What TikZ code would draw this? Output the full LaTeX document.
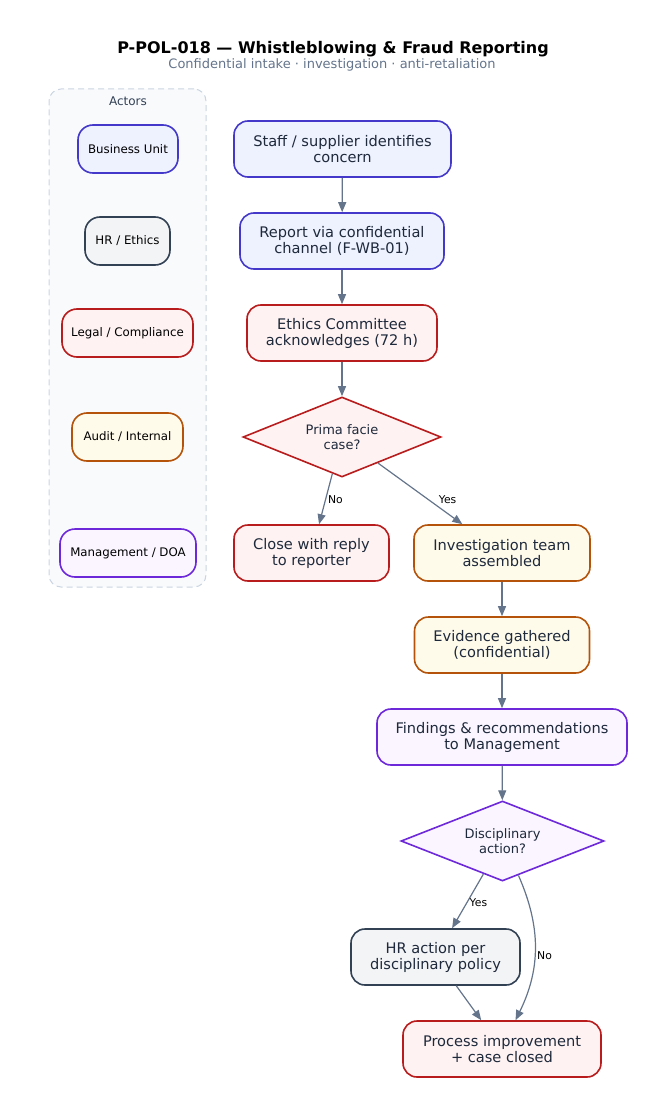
\documentclass[tikz,border=0pt]{standalone}
\usepackage{fontspec}
\setmainfont{DejaVu Sans}
\usetikzlibrary{shapes.geometric,arrows.meta}
\definecolor{edgec}{HTML}{64748B}
\definecolor{bluB}{HTML}{4338CA}\definecolor{bluF}{HTML}{EEF2FF}
\definecolor{redB}{HTML}{B91C1C}\definecolor{redF}{HTML}{FEF2F2}
\definecolor{orB}{HTML}{B45309}\definecolor{orF}{HTML}{FFFBEB}
\definecolor{puB}{HTML}{6D28D9}\definecolor{puF}{HTML}{FAF5FF}
\definecolor{grB}{HTML}{334155}\definecolor{grF}{HTML}{F3F4F6}
\definecolor{txt}{HTML}{1E293B}
\definecolor{laneB}{HTML}{CBD5E1}\definecolor{laneF}{HTML}{F8FAFC}
\definecolor{subc}{HTML}{64748B}
\begin{document}
\begin{tikzpicture}[x=1pt,y=-1pt,
  box/.style={rectangle, rounded corners=14pt, line width=1.6pt, align=center, text=txt,
    font=\fontsize{14.6}{16}\selectfont, inner sep=0pt, minimum height=56pt},
  actor/.style={rectangle, rounded corners=15pt, line width=1.6pt, align=center, text=black,
    font=\fontsize{11.8}{14}\selectfont, inner sep=0pt, minimum height=48pt},
  dec/.style={diamond, aspect=2.5, line width=1.6pt, align=center, text=txt, inner sep=0pt,
    font=\fontsize{13}{14.7}\selectfont},
  blue/.style={draw=bluB, fill=bluF},
  red/.style={draw=redB, fill=redF},
  orange/.style={draw=orB, fill=orF},
  purple/.style={draw=puB, fill=puF},
  grey/.style={draw=grB, fill=grF},
  conn/.style={draw=edgec, line width=1.2pt, -{Triangle[length=10pt,width=8pt]}},
  elab/.style={font=\fontsize{10.8}{12}\selectfont, text=black, inner sep=1pt}
]
\useasboundingbox (0,0) rectangle (666,1115);
% title
\node[font=\bfseries\fontsize{16}{18}\selectfont, text=black] (title) at (333,49) {P-POL-018 — Whistleblowing \& Fraud Reporting};
\node[font=\fontsize{13}{14}\selectfont, text=subc] (sub) at (332,64.5) {Confidential intake · investigation · anti-retaliation};
% actors lane
\node[draw=laneB, fill=laneF, dashed, dash pattern=on 6pt off 4pt, line width=1pt, rounded corners=12pt,
  minimum width=157pt, minimum height=498pt, inner sep=0pt] (lane) at (127.5,338) {};
\node[font=\fontsize{12}{14}\selectfont, text=grB] (lanelab) at (128,101) {Actors};
\node[actor, blue, minimum width=100pt] (a1) at (128,149) {Business Unit};
\node[actor, grey, minimum width=85pt] (a2) at (127.5,241) {HR / Ethics};
\node[actor, red, minimum width=131pt] (a3) at (127.5,333) {Legal / Compliance};
\node[actor, orange, minimum width=111pt] (a4) at (127.5,437) {Audit / Internal};
\node[actor, purple, minimum width=136pt] (a5) at (128,553) {Management / DOA};
% main flow
\node[box, blue, minimum width=217pt] (n1) at (342.5,149) {Staff / supplier identifies\\concern};
\node[box, blue, minimum width=204pt] (n2) at (342,241) {Report via confidential\\channel (F-WB-01)};
\node[box, red, minimum width=190pt] (n3) at (342,333) {Ethics Committee\\acknowledges (72 h)};
\node[dec, red, minimum width=198pt, minimum height=80pt] (d1) at (342,437) {Prima facie\\case?};
\node[box, red, minimum width=155pt] (n5) at (311.5,553) {Close with reply\\to reporter};
\node[box, orange, minimum width=176pt] (n6) at (502,553) {Investigation team\\assembled};
\node[box, orange, minimum width=175pt] (n7) at (502,645) {Evidence gathered\\(confidential)};
\node[box, purple, minimum width=250pt] (n8) at (502,737) {Findings \& recommendations\\to Management};
\node[dec, purple, minimum width=203pt, minimum height=80pt] (d2) at (502.5,841) {Disciplinary\\action?};
\node[box, grey, minimum width=169pt] (n10) at (435.5,957) {HR action per\\disciplinary policy};
\node[box, red, minimum width=198pt] (n11) at (502,1049) {Process improvement\\+ case closed};
% connectors
\draw[conn] (n1) -- (n2);
\draw[conn] (n2) -- (n3);
\draw[conn] (n3) -- (d1);
\draw[conn] (d1) -- node[elab, pos=0.52, anchor=west, xshift=1pt] {No} (n5);
\draw[conn] (d1) -- node[elab, pos=0.56, anchor=west, xshift=12pt, yshift=-2pt] {Yes} (n6);
\draw[conn] (n6) -- (n7);
\draw[conn] (n7) -- (n8);
\draw[conn] (n8) -- (d2);
\draw[conn] (d2) -- node[elab, pos=0.52, anchor=west, xshift=1pt] {Yes} (n10);
\draw[conn] (d2) to[bend left=25] node[elab, pos=0.55, anchor=west, xshift=1pt] {No} (n11);
\draw[conn] (n10) -- (n11);
\end{tikzpicture}
\end{document}
